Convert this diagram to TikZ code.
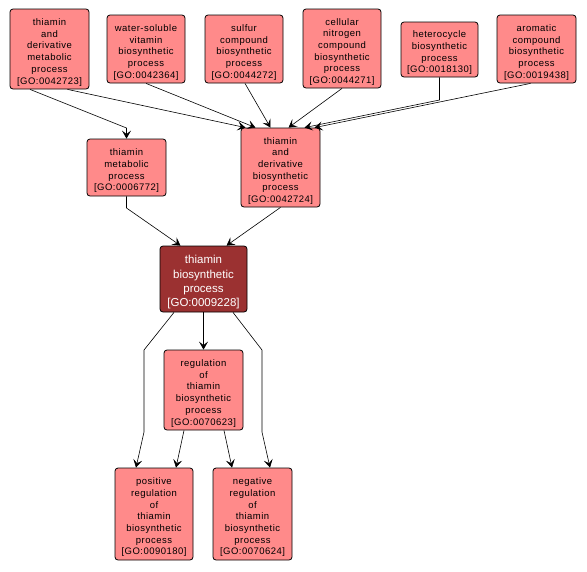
\documentclass[tikz,border=0pt]{standalone}
\usepackage{fontspec}
\setmainfont{Liberation Sans}
\newfontfamily\smallfam[LetterSpace=5]{Liberation Sans}
\usetikzlibrary{arrows.meta,calc}
\definecolor{pinkfill}{HTML}{FF8A8A}
\definecolor{darkfill}{HTML}{9B3131}
\newcommand\tsp{\rule{0pt}{13.5pt}}
\newcommand\tsm{\rule{0pt}{15pt}}
\tikzset{
  goterm/.style={draw=black, line width=0.8pt, rounded corners=3pt, fill=pinkfill,
    align=center, inner sep=0pt, font=\smallfam\fontsize{9.5}{11.7}\selectfont},
  gomain/.style={draw=black, line width=0.8pt, rounded corners=3pt, fill=darkfill,
    text=white, align=center, inner sep=0pt, font=\fontsize{11.5}{14.3}\selectfont},
  isa/.style={draw=black, line width=0.6pt, -{Stealth[length=8pt,width=9pt,inset=3.5pt]}}
}
\begin{document}
\begin{tikzpicture}[x=1pt,y=-1pt]
\useasboundingbox (0,0) rectangle (587,571);
\node[goterm, minimum width=79pt, minimum height=80pt] (n1) at (49.5,49) {\tsp thiamin\\and\\derivative\\metabolic\\process\\{[GO:0042723]}};
\node[goterm, minimum width=78pt, minimum height=68pt] (n2) at (146,49) {\tsp water-soluble\\vitamin\\biosynthetic\\process\\{[GO:0042364]}};
\node[goterm, minimum width=78pt, minimum height=68pt] (n3) at (244,49) {\tsp sulfur\\compound\\biosynthetic\\process\\{[GO:0044272]}};
\node[goterm, minimum width=78pt, minimum height=79pt] (n4) at (342,48.5) {\tsp cellular\\nitrogen\\compound\\biosynthetic\\process\\{[GO:0044271]}};
\node[goterm, minimum width=77pt, minimum height=55pt] (n5) at (439.5,49.5) {\tsp heterocycle\\biosynthetic\\process\\{[GO:0018130]}};
\node[goterm, minimum width=79pt, minimum height=68pt] (n6) at (536.5,49) {\tsp aromatic\\compound\\biosynthetic\\process\\{[GO:0019438]}};
\node[goterm, minimum width=79pt, minimum height=57pt] (tm) at (126.5,167.5) {\tsp thiamin\\metabolic\\process\\{[GO:0006772]}};
\node[goterm, minimum width=79pt, minimum height=79pt] (tdb) at (280.5,167.5) {\tsp thiamin\\and\\derivative\\biosynthetic\\process\\{[GO:0042724]}};
\node[gomain, minimum width=87pt, minimum height=66pt] (tb) at (203.5,279) {\tsm thiamin\\biosynthetic\\process\\{[GO:0009228]}};
\node[goterm, minimum width=79pt, minimum height=80pt] (reg) at (203.5,390) {\tsp regulation\\of\\thiamin\\biosynthetic\\process\\{[GO:0070623]}};
\node[goterm, minimum width=78pt, minimum height=92pt] (pos) at (154,514) {\tsp positive\\regulation\\of\\thiamin\\biosynthetic\\process\\{[GO:0090180]}};
\node[goterm, minimum width=79pt, minimum height=92pt] (neg) at (252.5,514) {\tsp negative\\regulation\\of\\thiamin\\biosynthetic\\process\\{[GO:0070624]}};

\draw[isa] ([xshift=-19.5pt]n1.south) -- (126.5,128) -- (tm.north);
\draw[isa] ([xshift=18pt]n1.south) -- ([xshift=-35pt]tdb.north);
\draw[isa] (n2.south) -- ([xshift=-25pt]tdb.north);
\draw[isa] ([xshift=1pt]n3.south) -- ([xshift=-10pt]tdb.north);
\draw[isa] (n4.south) -- ([xshift=8pt]tdb.north);
\draw[isa] (n5.south) -- (439.5,100) -- ([xshift=24pt]tdb.north);
\draw[isa] ([xshift=-6pt]n6.south) -- ([xshift=34pt]tdb.north);
\draw[isa] (tm.south) -- (126.5,208) -- ([xshift=-23pt]tb.north);
\draw[isa] (tdb.south) -- ([xshift=23pt]tb.north);
\draw[isa] (tb.south) -- (reg.north);
\draw[isa] ([xshift=-29.5pt]tb.south) -- (144,350) -- (144,432) -- ([xshift=-18pt]pos.north);
\draw[isa] ([xshift=29.5pt]tb.south) -- (262,350) -- (262,432) -- ([xshift=17.5pt]neg.north);
\draw[isa] ([xshift=-19.5pt]reg.south) -- ([xshift=22pt]pos.north);
\draw[isa] ([xshift=20.5pt]reg.south) -- ([xshift=-20.5pt]neg.north);
\end{tikzpicture}
\end{document}
